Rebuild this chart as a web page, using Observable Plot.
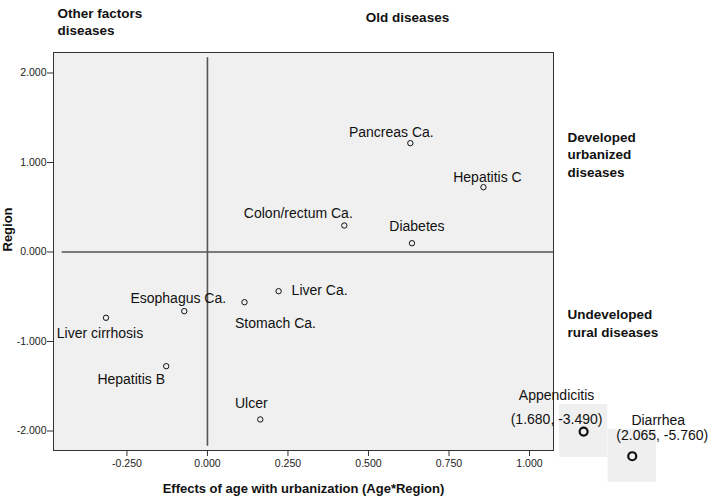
<!DOCTYPE html>
<html>
<head>
<meta charset="utf-8">
<script src="https://cdn.jsdelivr.net/npm/d3@7"></script>
<script src="https://cdn.jsdelivr.net/npm/@observablehq/plot@0.6"></script>
<style>
  html, body { margin: 0; padding: 0; background: #fff; }
  #chart svg { display: block; }
</style>
</head>
<body>
<div id="chart"></div>
<script>
// ---- data ----
const diseases = ["Pancreas Ca.", "Hepatitis C", "Colon/rectum Ca.", "Diabetes", "Esophagus Ca.",
  "Liver cirrhosis", "Hepatitis B", "Stomach Ca.", "Liver Ca.", "Ulcer"];
const ageRegion = [0.630, 0.857, 0.425, 0.635, -0.072, -0.315, -0.128, 0.115, 0.221, 0.164];
const region = [1.216, 0.724, 0.296, 0.098, -0.661, -0.735, -1.276, -0.561, -0.438, -1.871];

// off-scale cases (true values) and where they are shown beside the frame
const outlierNames = ["Appendicitis", "Diarrhea"];
const outlierAgeRegion = [1.680, 2.065];
const outlierRegion = [-3.490, -5.760];
const outlierShownX = [1.168, 1.319];
const outlierShownY = [-2.006, -2.282];

const xTicks = [-0.25, 0, 0.25, 0.5, 0.75, 1];
const yTicks = [-2, -1, 0, 1, 2];

// ---- label placement (pixels) ----
const labelDx = [-19, 4, -46, 5, -6, -6, -35, 31, 41, -9];
const labelDy = [-11, -10, -12, -17, -13, 16, 13, 21, -1, -16];
const outNameDx = [-27, 26], outNameDy = [-36, -36];
const outValDx = [-27, 30], outValDy = [-12, -21];

const fmt = d => d.toFixed(3);
const pts = diseases.map((name, i) => ({name, x: ageRegion[i], y: region[i]}));
const outs = outlierNames.map((name, i) => ({
  name, x: outlierShownX[i], y: outlierShownY[i],
  coords: `(${fmt(outlierAgeRegion[i])}, ${fmt(outlierRegion[i])})`
}));

const font = "Arial, 'Liberation Sans', Helvetica, sans-serif";

const marks = [
  Plot.frame({fill: "#f0f0f0", stroke: "#333", strokeWidth: 1}),
  // off-scale boxes
  Plot.rect(outs, {x1: d => d.x - 0.075, x2: d => d.x + 0.075, y1: d => d.y - 0.29, y2: d => d.y + 0.30, fill: "#efefef"}),
  // reference lines
  Plot.ruleY([{y: 0, x1: -0.451, x2: 1.0745}], {y: "y", x1: "x1", x2: "x2", stroke: "#555", strokeWidth: 1.6}),
  Plot.ruleX([{x: 0, y1: -2.17, y2: 2.17}], {x: "x", y1: "y1", y2: "y2", stroke: "#555", strokeWidth: 1.6}),
  Plot.axisX({ticks: xTicks, tickFormat: fmt, tickSize: 6, tickPadding: 3, label: null, stroke: "#333", fill: "#222"}),
  Plot.axisY({ticks: yTicks, tickFormat: fmt, tickSize: 6, tickPadding: 1, label: null, stroke: "#333", fill: "#222"}),
  Plot.dot(pts, {x: "x", y: "y", r: 2.7, stroke: "#111", strokeWidth: 1, fill: "none"}),
  Plot.dot(outs, {x: "x", y: "y", r: 4, stroke: "#111", strokeWidth: 2.2, fill: "none"}),
  ...pts.map((p, i) => Plot.text([p], {x: "x", y: "y", text: "name", dx: labelDx[i], dy: labelDy[i],
    fontSize: 14, fill: "#111"})),
  ...outs.map((p, i) => Plot.text([p], {x: "x", y: "y", text: "name", dx: outNameDx[i], dy: outNameDy[i],
    fontSize: 14, fill: "#111"})),
  ...outs.map((p, i) => Plot.text([p], {x: "x", y: "y", text: "coords", dx: outValDx[i], dy: outValDy[i],
    fontSize: 14, fill: "#111"})),
  // axis titles
  Plot.text(["Effects of age with urbanization (Age*Region)"], {frameAnchor: "bottom", dy: 38, lineAnchor: "middle",
    fontSize: 13, fontWeight: "bold", fill: "#111"}),
  Plot.text(["Region"], {frameAnchor: "left", dx: -46, rotate: -90, fontSize: 13, fontWeight: "bold", fill: "#111"}),
  // quadrant annotations
  Plot.text(["Other factors\ndiseases"], {frameAnchor: "top-left", dx: 4, dy: -31, textAnchor: "start", lineAnchor: "middle",
    lineHeight: 1.25, fontSize: 13.5, fontWeight: "bold", fill: "#111"}),
  Plot.text(["Old diseases"], {frameAnchor: "top", dx: 104, dy: -35, lineAnchor: "middle",
    fontSize: 13.5, fontWeight: "bold", fill: "#111"}),
  Plot.text(["Developed\nurbanized\ndiseases"], {frameAnchor: "top-right", dx: 14, dy: 101, textAnchor: "start", lineAnchor: "middle",
    lineHeight: 1.3, fontSize: 13.5, fontWeight: "bold", fill: "#111"}),
  Plot.text(["Undeveloped\nrural diseases"], {frameAnchor: "top-right", dx: 14, dy: 270, textAnchor: "start", lineAnchor: "middle",
    lineHeight: 1.3, fontSize: 13.5, fontWeight: "bold", fill: "#111"})
];

const chart = Plot.plot({
  width: 709,
  height: 496,
  marginLeft: 53,
  marginRight: 156,
  marginTop: 52,
  marginBottom: 46,
  style: {fontFamily: font, fontSize: "10.5px", background: "#fff", overflow: "visible"},
  x: {domain: [-0.478, 1.0745], axis: null},
  y: {domain: [-2.218, 2.229], axis: null},
  marks
});
document.getElementById("chart").appendChild(chart);
</script>
</body>
</html>
